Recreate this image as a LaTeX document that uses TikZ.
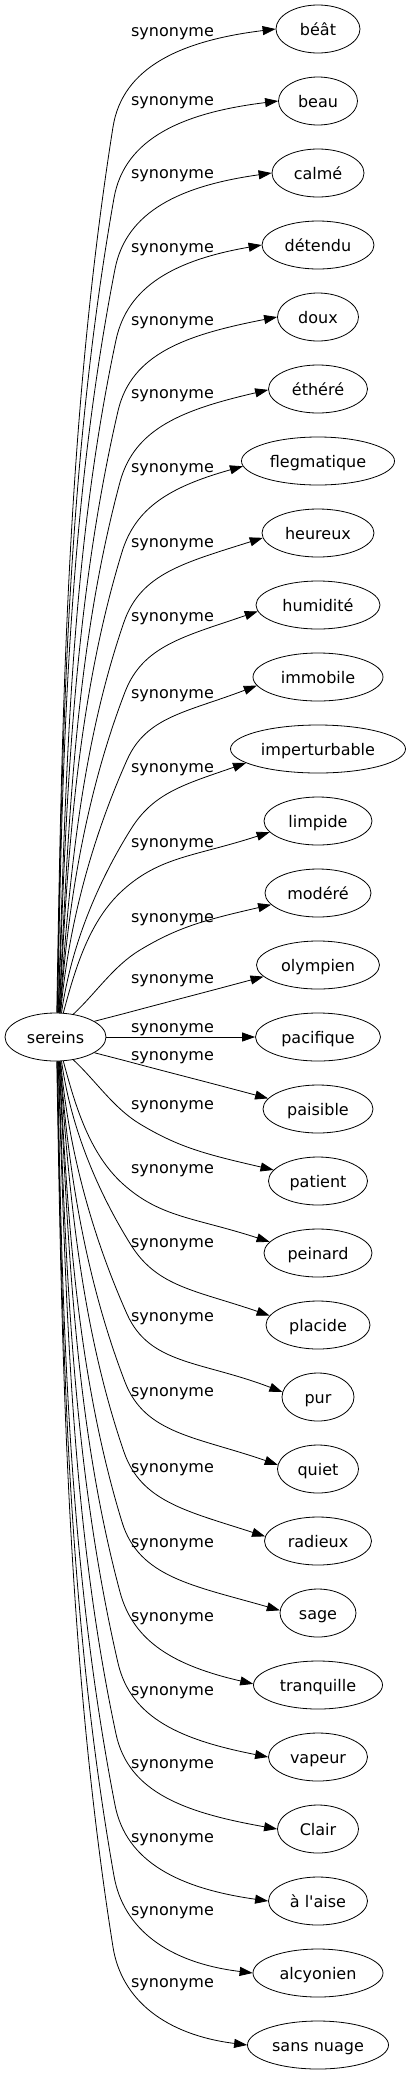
\documentclass[tikz,border=0pt]{standalone}
\usepackage{fontspec}
\setmainfont{DejaVu Sans}[Ligatures=TeXOff]
\usetikzlibrary{shapes.geometric,arrows.meta}
\newcommand\synedge[3]{% #1 index, #2 level k, #3 sigma (+1 upper, -1 lower)
 \pgfmathsetmacro\qyt{29+72*#1}
 \pgfmathsetmacro\qhw{{84,79,92,112,81,99,153,112,124,130,175,108,106,123,125,110,99,108,104,72,81,107,76,129,99,81,99,130,141}[#1]/2}
 \pgfmathsetmacro\qxP{{0,130,140,123,131,127,125,124,122,120,118,116,115,114,113}[#2]}
 \pgfmathsetmacro\qhP{{0,47,57,69,80,83,87,89,91,93,94,95,96,97,98}[#2]}
 \pgfmathsetmacro\qtp{{0,15,31,42,58,66,69,71,73,75,77,78,79,80,81}[#2]}
 \pgfmathsetmacro\qtb{{0,15,13,18,19,21,19,18,16,13,11,10,8,7,7}[#2]}
 \pgfmathtruncatemacro\qe{{0,12,14,13,11,8,6,5,4,1,0,0,0,0,0}[#2]}
 \pgfmathtruncatemacro\qph{{0,22,52,72,76,78,79,80,81,82,83,84,85,86,87}[#2]}
 \pgfmathsetmacro\qta{{0,15,43,75,82,85,86,86,87,87,88,88,89,89,89}[#2]}
 \pgfmathsetmacro\qxs{1/sqrt(1/2550.25+(tan(\qph))^2/576)}
 \pgfmathsetmacro\qSx{55.5+\qxs}
 \pgfmathsetmacro\qSy{1037-#3*\qxs*tan(\qph)}
 \pgfmathsetmacro\qPy{\qyt+#3*\qhP}
 \pgfmathsetmacro\qdA{veclen(\qxP-\qSx,\qPy-\qSy)/3}
 \pgfmathsetmacro\qax{\qSx+\qdA*cos(\qta)}
 \pgfmathsetmacro\qay{\qSy-#3*\qdA*sin(\qta)}
 \pgfmathsetmacro\qbx{\qxP-\qdA*cos(\qtp)}
 \pgfmathsetmacro\qby{\qPy+#3*\qdA*sin(\qtp)}
 \pgfmathsetmacro\qm{tan(\qe)}
 \pgfmathsetmacro\qxe{1/sqrt(1/(\qhw*\qhw)+\qm*\qm/576)}
 \pgfmathsetmacro\qEx{318-\qxe}
 \pgfmathsetmacro\qEy{\qyt+#3*\qxe*\qm}
 \pgfmathsetmacro\qdB{veclen(\qEx-\qxP,\qEy-\qPy)}
 \pgfmathsetmacro\qcx{\qxP+0.32*\qdB*cos(\qtp)}
 \pgfmathsetmacro\qcy{\qPy-#3*0.32*\qdB*sin(\qtp)}
 \pgfmathsetmacro\qdx{\qEx-0.5*\qdB*cos(\qtb)}
 \pgfmathsetmacro\qdy{\qEy+#3*0.5*\qdB*sin(\qtb)}
 \pgfmathtruncatemacro\qsa{mod(360+#3*\qph,360)}
 \pgfmathtruncatemacro\qea{180+#3*\qe}
 \draw[syn] (sereins.\qsa) .. controls (\qax,\qay) and (\qbx,\qby) .. (\qxP,\qPy)
   .. controls (\qcx,\qcy) and (\qdx,\qdy) .. (n#1.\qea);
}
\begin{document}
\begin{tikzpicture}[x=1pt,y=-1pt,
  word/.style={draw, ellipse, line width=0.8pt, inner sep=0pt, minimum height=48pt,
    font=\fontsize{16pt}{19pt}\selectfont, text height=14pt, text depth=2pt},
  lab/.style={font=\fontsize{16pt}{19pt}\selectfont, inner sep=0pt, anchor=base},
  syn/.style={line width=0.8pt, -{Triangle[length=13pt,width=9pt]}}]
\useasboundingbox[fill=white] (0,0) rectangle (410,2075);
\node[word, minimum width=101pt] (sereins) at (55.5,1037) {sereins};
\foreach \i/\t/\w in {0/béât/84, 1/beau/79, 2/calmé/92, 3/détendu/112, 4/doux/81,
  5/éthéré/99, 6/flegmatique/153, 7/heureux/112, 8/humidité/124, 9/immobile/130,
  10/imperturbable/175, 11/limpide/108, 12/modéré/106, 13/olympien/123,
  14/pacifique/125, 15/paisible/110, 16/patient/99, 17/peinard/108, 18/placide/104,
  19/pur/72, 20/quiet/81, 21/radieux/107, 22/sage/76, 23/tranquille/129,
  24/vapeur/99, 25/Clair/81, 26/à l'aise/99, 27/alcyonien/130, 28/sans nuage/141}{
  \pgfmathsetmacro\yy{29+72*\i}
  \node[word, minimum width=\w pt] (n\i) at (318,\yy) {\t};
}
\foreach \i/\c in {0/31, 1/100, 2/173, 3/247, 4/320, 5/393, 6/467, 7/542, 8/616,
  9/693, 10/767, 11/842, 12/917, 13/978, 14/1027, 15/1055, 16/1104, 17/1168,
  18/1242, 19/1316, 20/1391, 21/1467, 22/1542, 23/1616, 24/1690, 25/1763,
  26/1837, 27/1910, 28/1982}{
  \node[lab] (l\i) at (172.5,\c+5.5) {synonyme};
}
\foreach \i in {0,...,13}{
  \pgfmathtruncatemacro\kk{14-\i}
  \synedge{\i}{\kk}{1}
}
\foreach \i in {15,...,28}{
  \pgfmathtruncatemacro\kk{\i-14}
  \synedge{\i}{\kk}{-1}
}
\draw[syn] (sereins) -- (n14);
\end{tikzpicture}
\end{document}
